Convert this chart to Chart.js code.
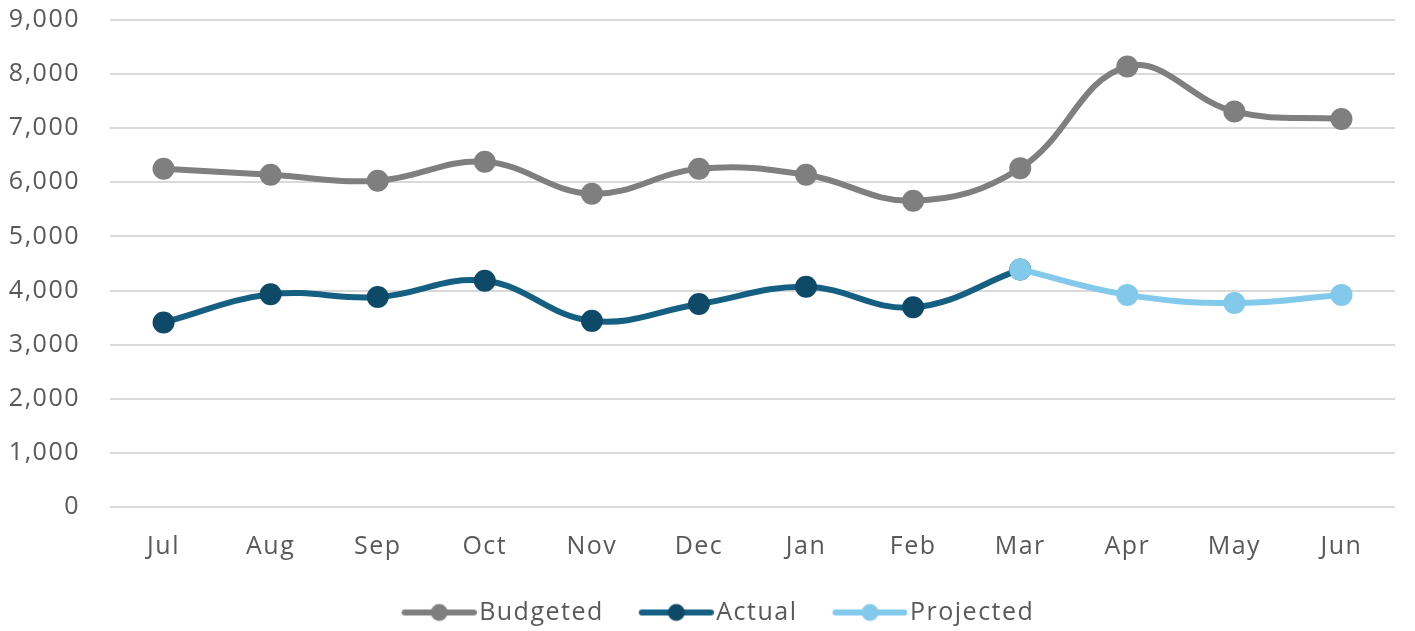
<!DOCTYPE html>
<html>
<head>
<meta charset="utf-8">
<script src="https://cdn.jsdelivr.net/npm/chart.js@4.4.1/dist/chart.umd.min.js"></script>
<style>
html,body{margin:0;padding:0;background:#fff;}
#wrap{width:1415px;height:631px;position:relative;}
</style>
</head>
<body>
<div id="wrap"><canvas id="c" width="1415" height="631"></canvas></div>
<script>
const months = ['Jul','Aug','Sep','Oct','Nov','Dec','Jan','Feb','Mar','Apr','May','Jun'];
const budgeted = [6250, 6140, 6030, 6380, 5790, 6250, 6140, 5660, 6260, 8140, 7310, 7170];
const actual = [3410, 3930, 3880, 4180, 3440, 3750, 4070, 3690, 4390, null, null, null];
const projected = [null, null, null, null, null, null, null, null, 4390, 3920, 3770, 3920];
const yTicks = [0,1000,2000,3000,4000,5000,6000,7000,8000,9000];

const colBud = '#7f7f7f';
const colAct = '#156082';
const colActPt = '#0e4a68';
const colProj = '#83c9eb';
const FONT = '"Open Sans", "Noto Sans", sans-serif';
const FS = 25;

function legendIcon(line, dot){
  const cv = document.createElement('canvas');
  cv.width = 82; cv.height = 20;
  const g = cv.getContext('2d');
  g.strokeStyle = line; g.lineWidth = 6; g.lineCap = 'round';
  g.beginPath(); g.moveTo(10,10); g.lineTo(79,10); g.stroke();
  g.fillStyle = dot;
  g.beginPath(); g.arc(44.5,10,8.5,0,Math.PI*2); g.fill();
  return cv;
}
const icons = [legendIcon(colBud,colBud), legendIcon(colAct,colActPt), legendIcon(colProj,colProj)];

const spacing = {
  id: 'spacing',
  beforeUpdate(chart){ chart.ctx.letterSpacing = '1.5px'; },
  afterLayout(chart){ if (chart.legend){ chart.legend.left += 18; chart.legend.right += 18; } },
  beforeDraw(chart){ chart.ctx.letterSpacing = '1.5px'; }
};

new Chart(document.getElementById('c'), {
  type: 'line',
  plugins: [spacing],
  data: {
    labels: months,
    datasets: [
      {label:'Budgeted', data: budgeted, borderColor: colBud, backgroundColor: colBud,
       pointBackgroundColor: colBud, pointBorderColor: colBud, borderWidth: 6, pointRadius: 8, tension: 0.4, order: 3},
      {label:'Actual', data: actual, borderColor: colAct, backgroundColor: colAct,
       pointBackgroundColor: colActPt, pointBorderColor: colActPt, borderWidth: 6, pointRadius: 8, tension: 0.4, order: 2},
      {label:'Projected', data: projected, borderColor: colProj, backgroundColor: colProj,
       pointBackgroundColor: colProj, pointBorderColor: colProj, borderWidth: 6, pointRadius: 8, tension: 0.4, order: 1}
    ]
  },
  options: {
    responsive: false,
    animation: false,
    devicePixelRatio: 1,
    layout: {autoPadding: false, padding: {left: 8, right: 20, top: 0, bottom: -4}},
    plugins: {
      tooltip: {enabled: false},
      legend: {
        position: 'bottom',
        labels: {
          usePointStyle: true,
          pointStyleWidth: 62,
          boxHeight: 20,
          padding: 38,
          color: '#595959',
          font: {family: FONT, size: FS},
          generateLabels: (chart) => chart.data.datasets.map((ds,i) => ({
            text: ds.label, pointStyle: icons[i], fillStyle: ds.borderColor,
            strokeStyle: ds.borderColor, lineWidth: 0, hidden: false, datasetIndex: i, fontColor: '#595959'
          }))
        }
      }
    },
    scales: {
      x: {
        offset: true,
        grid: {display: false, drawTicks: false},
        border: {display: false},
        ticks: {color: '#595959', font: {family: FONT, size: FS}, padding: 25, maxRotation: 0},
        afterFit: (ax) => { ax.height = 55; }
      },
      y: {
        min: 0, max: 9000,
        afterBuildTicks: (ax) => { ax.ticks = yTicks.map(v => ({value: v})); },
        grid: {color: '#d9d9d9', lineWidth: 2, drawTicks: false},
        border: {display: false},
        ticks: {color: '#595959', font: {family: FONT, size: FS}, padding: 30,
                callback: (v) => v.toLocaleString('en-US')},
        afterFit: (ax) => { ax.width = 102; ax.paddingTop = 20; ax.paddingBottom = 0; }
      }
    }
  }
});
</script>
</body>
</html>
